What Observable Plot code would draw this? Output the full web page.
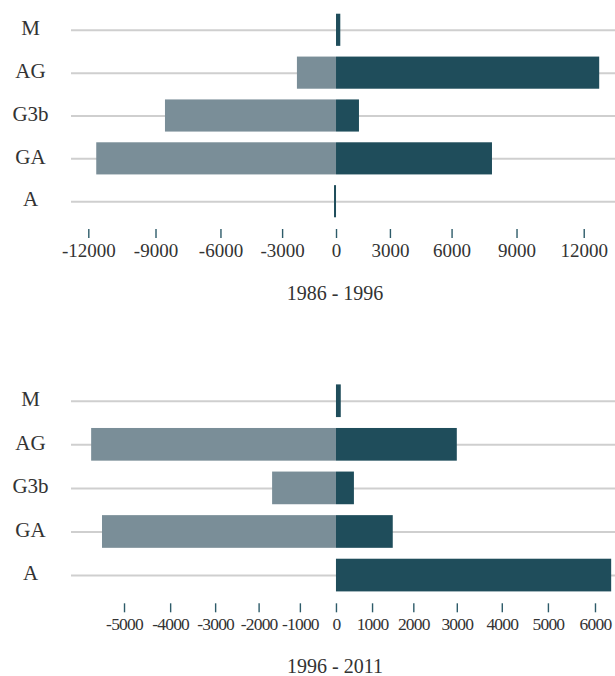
<!DOCTYPE html>
<html>
<head>
<meta charset="utf-8">
<script src="https://cdn.jsdelivr.net/npm/d3@7"></script>
<script src="https://cdn.jsdelivr.net/npm/@observablehq/plot@0.6"></script>
<style>
  html, body { margin: 0; padding: 0; background: #fff; overflow: hidden; }
  .block { height: 370px; width: 615px; overflow: hidden; }
  .cap { font-family: "Liberation Serif", serif; font-size: 20px; color: #333;
         text-align: center; padding-left: 55px; box-sizing: border-box; width: 615px;
         line-height: 20px; margin-top: 13px; }
  .p2 .cap { margin-top: 16px; }
  .p2 g[aria-label="x-axis tick label"] text { letter-spacing: -0.8px; }
</style>
</head>
<body>
<div id="chart"></div>
<script>
const categories = ["M", "AG", "G3b", "GA", "A"];
const periods = ["1986 - 1996", "1996 - 2011"];
// dark series (gains) and light series (losses), per period
const gain1 = [300, 12680, 1380, 7880, -150];
const loss1 = [0, -2240, -8570, -11650, 0];
const gain2 = [160, 3000, 530, 1510, 6340];
const loss2 = [0, -5700, -1680, -5470, 0];
const ticks1 = [-12000, -9000, -6000, -3000, 0, 3000, 6000, 9000, 12000];
const ticks2 = [-5000, -4000, -3000, -2000, -1000, 0, 1000, 2000, 3000, 4000, 5000, 6000];
const domains = [[-12760, 13370], [-6125, 6420]];
const tickFontSizes = [19, 17.5];

const darkColor = "#1f4d5b";
const greyColor = "#7a8e98";

function panel(gain, loss, ticks, domain, label, tickFont, cls, mt, mb) {
  const block = document.createElement("div");
  block.className = "block " + cls;
  const svg = Plot.plot({
    width: 615,
    height: 270,
    marginLeft: 71,
    marginRight: 0,
    marginTop: mt,
    marginBottom: mb,
    style: { fontFamily: "Liberation Serif, serif", fontSize: "19px", color: "#333", background: "#fff" },
    x: { type: "pow", exponent: 1.1, domain, ticks, tickFormat: d => String(d) },
    y: { domain: categories, padding: 0.25, round: false },
    marks: [
      Plot.ruleY(categories, { y: d => d, stroke: "#cfcfcf", strokeWidth: 2 }),
      Plot.barX(categories, { y: d => d, x1: 0, x2: (d, i) => loss[i], fill: greyColor }),
      Plot.barX(categories, { y: d => d, x1: 0, x2: (d, i) => gain[i], fill: darkColor }),
      Plot.axisY({ tickSize: 0, tickPadding: 41, textAnchor: "middle", dy: -2, fill: "#333", fontSize: 21 }),
      Plot.axisX({ ticks, tickFormat: d => String(d), tickSize: 9, dy: 1, tickPadding: 5, stroke: "#2d5b69", strokeWidth: 1.4, fill: "#333", fontSize: tickFont, label: null })
    ]
  });
  block.appendChild(svg);
  const cap = document.createElement("div");
  cap.className = "cap";
  cap.textContent = label;
  block.appendChild(cap);
  return block;
}

const root = document.getElementById("chart");
root.appendChild(panel(gain1, loss1, ticks1, domains[0], periods[0], tickFontSizes[0], "p1", 3, 42));
root.appendChild(panel(gain2, loss2, ticks2, domains[1], periods[1], tickFontSizes[1], "p2", 3.5, 37.7));
</script>
</body>
</html>
